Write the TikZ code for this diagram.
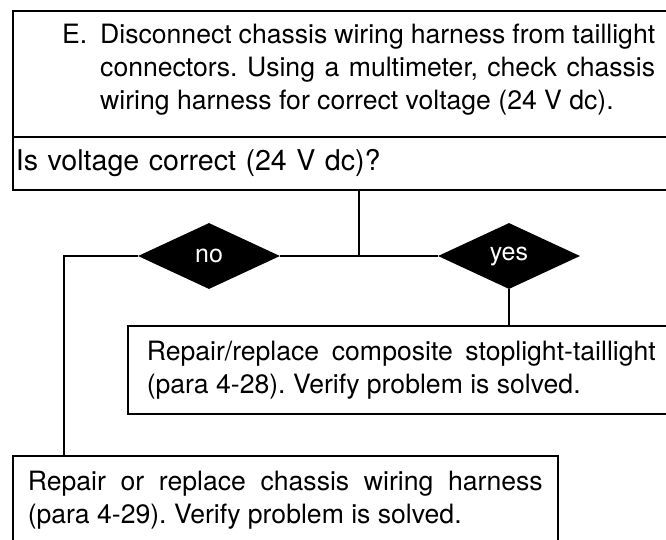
\documentclass[tikz,border=0pt]{standalone}
\usepackage{fontspec}
\setmainfont{TeX Gyre Heros}
\usetikzlibrary{shapes.geometric}
\frenchspacing
\begin{document}
\begin{tikzpicture}[x=1pt,y=-1pt,
  box/.style={draw,line width=1.6pt,anchor=north west,align=justify,
    font=\fontsize{26.6}{33}\selectfont\frenchspacing,inner ysep=0pt},
  plain/.style={anchor=north west,align=justify,inner sep=0pt,
    font=\fontsize{26.6}{33}\selectfont\frenchspacing},
  dec/.style={diamond,fill=black,text=white,minimum width=142pt,
    minimum height=66pt,inner sep=0pt,font=\fontsize{25}{28}\selectfont},
  conn/.style={line width=1.5pt}]
\useasboundingbox (0,0) rectangle (666,539);
\clip (0,0) rectangle (666,539);
\node[box,minimum width=720pt,minimum height=126pt] (top) at (12,10) {};
\node[plain,text width=555pt] (toptext) at (100,24)
  {\leavevmode\llap{\makebox[38pt][l]{E.}}Disconnect chassis wiring harness from taillight\linebreak
   connectors. Using a multimeter, check chassis\linebreak
   wiring harness for correct voltage (24 V dc).};
\node[box,text width=650pt,inner xsep=3pt,minimum height=53pt,align=left,
  font=\fontsize{28.6}{33}\selectfont] (q) at (12,136)
  {Is voltage correct (24 V dc)?};
\node[dec] (no) at (209,256) {no};
\node[dec] (yes) at (509,256) {yes};
\coordinate (j) at (359,256);
\coordinate (nl) at (64,256);
\node[box,text width=509pt,inner xsep=19pt,minimum height=88pt] (yesbox) at (127,325)
  {Repair/replace composite stoplight-taillight\linebreak
   (para 4-28). Verify problem is solved.};
\node[box,text width=515pt,inner xsep=15pt,minimum height=89pt] (nobox) at (12,455)
  {Repair or replace chassis wiring harness\linebreak
   (para 4-29). Verify problem is solved.};
\draw[conn] (j |- q.south) -- (j);
\draw[conn] (no.east) -- (yes.west);
\draw[conn] (no.west) -- (nl) -- (nl |- nobox.north);
\draw[conn] (yes.south) -- (yes.south |- yesbox.north);
\end{tikzpicture}
\end{document}
